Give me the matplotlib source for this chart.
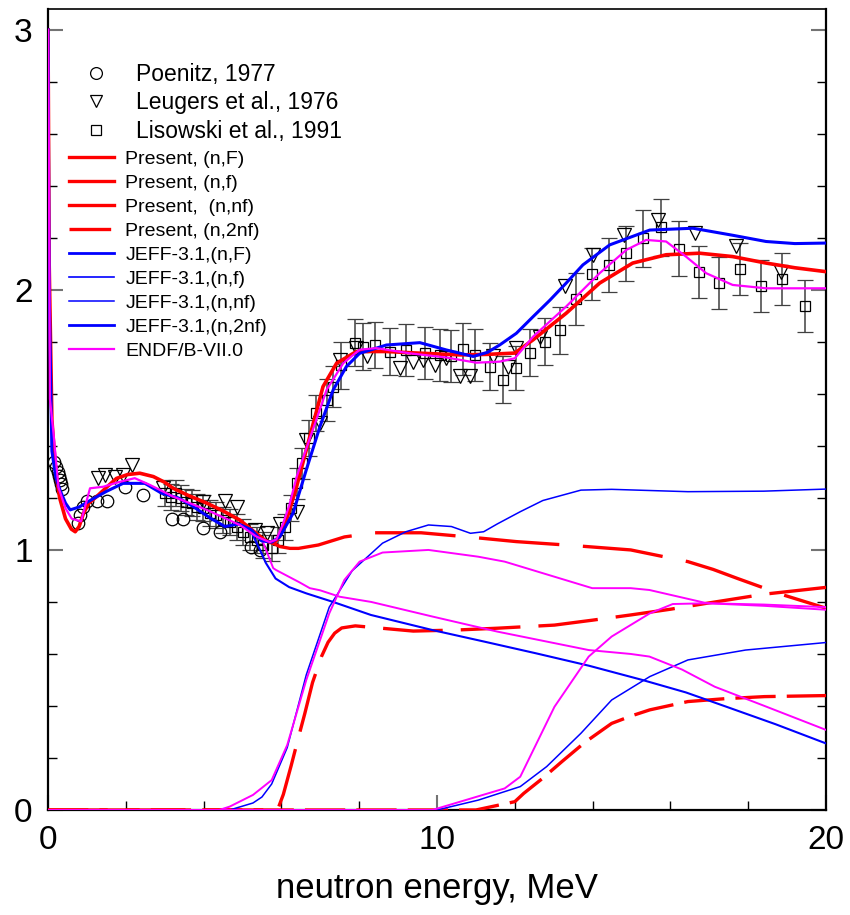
import matplotlib
matplotlib.use("Agg")
import matplotlib.pyplot as plt
from matplotlib.lines import Line2D
from matplotlib.ticker import MultipleLocator
import numpy as np

plt.rcParams['font.family'] = ['Liberation Sans', 'DejaVu Sans']
plt.rcParams['lines.scale_dashes'] = False

# --- Present (red) ---
e_pres_F = [0.0, 0.03, 0.1, 0.2, 0.3, 0.45, 0.6, 0.7, 0.8, 0.91, 1.05, 1.25, 1.5, 1.76, 2.05, 2.36,
            2.71, 3.0, 3.22, 3.6, 4.08, 4.5, 4.93, 5.3, 5.6, 5.8, 5.95, 6.13, 6.39, 6.73, 7.07, 7.42,
            7.93, 8.7, 9.5, 10.58, 11.3, 12.0, 12.47, 13.32, 14.18, 15.03, 15.89, 16.75, 17.6, 18.46,
            19.2, 20.0]
s_pres_F = [3.0, 2.1, 1.5, 1.3, 1.2, 1.12, 1.08, 1.07, 1.09, 1.14, 1.18, 1.205, 1.24, 1.275, 1.29, 1.295,
            1.282, 1.26, 1.237, 1.21, 1.18, 1.15, 1.115, 1.07, 1.035, 1.025, 1.05, 1.115, 1.243, 1.436,
            1.628, 1.718, 1.763, 1.763, 1.757, 1.75, 1.752, 1.757, 1.808, 1.91, 2.026, 2.103, 2.135,
            2.141, 2.128, 2.103, 2.085, 2.07]
e_pres_f = [5.8, 5.96, 6.22, 6.44, 6.95, 7.62, 8.4, 9.59, 10.8, 12.04, 13.5, 14.98, 16.45, 17.1,
            17.73, 18.9, 20.0]
s_pres_f = [1.025, 1.013, 1.006, 1.006, 1.019, 1.05, 1.066, 1.066, 1.05, 1.032, 1.017, 1.0,
            0.955, 0.925, 0.89, 0.827, 0.776]
e_pres_nf = [0.0, 5.9, 6.05, 6.25, 6.44, 6.6, 6.8, 7.03, 7.2, 7.37, 7.55, 7.9, 8.5, 9.39, 10.5, 11.55,
             13.02, 14.0, 14.98, 16.0, 16.94, 18.42, 20.0]
s_pres_nf = [0.0, 0.0, 0.06, 0.17, 0.28, 0.37, 0.49, 0.59, 0.645, 0.68, 0.70, 0.708, 0.70, 0.688, 0.692,
             0.699, 0.711, 0.73, 0.75, 0.772, 0.795, 0.83, 0.856]
e_pres_2nf = [0.0, 11.0, 12.0, 12.23, 12.7, 13.21, 13.8, 14.49, 15.0, 15.47, 16.45, 17.4, 18.42, 20.0]
s_pres_2nf = [0.0, 0.0, 0.032, 0.064, 0.12, 0.186, 0.26, 0.333, 0.362, 0.385, 0.417, 0.428, 0.436, 0.44]

# --- JEFF-3.1 (blue) ---
e_jeff_F = [0.0, 0.03, 0.1, 0.2, 0.31, 0.45, 0.57, 0.8, 1.08, 1.5, 1.93, 2.49, 2.92, 3.35, 3.7, 4.2,
            4.55, 4.9, 5.23, 5.49, 5.75, 5.96, 6.3, 6.64, 6.99, 7.33, 7.67, 8.01, 8.7, 9.56, 10.24,
            10.93, 11.3, 11.61, 12.04, 12.47, 12.9, 13.32, 13.75, 14.44, 15.47, 16.58, 17.6, 18.46,
            19.2, 20.0]
s_jeff_F = [3.0, 2.0, 1.38, 1.28, 1.23, 1.18, 1.154, 1.165, 1.19, 1.225, 1.256, 1.256, 1.218, 1.2, 1.17,
            1.12, 1.09, 1.1, 1.077, 1.035, 1.03, 1.051, 1.141, 1.308, 1.474, 1.615, 1.705, 1.756, 1.788,
            1.797, 1.769, 1.744, 1.76, 1.788, 1.833, 1.897, 1.96, 2.026, 2.096, 2.173, 2.23, 2.237,
            2.21, 2.186, 2.178, 2.18]
e_jeff_f = [5.2, 5.45, 5.6, 5.85, 6.2, 6.64, 7.33, 8.3, 9.88, 11.2, 12.53, 13.9, 15.28, 16.4, 17.44,
            18.7, 20.0]
s_jeff_f = [1.077, 1.0, 0.95, 0.89, 0.857, 0.833, 0.80, 0.75, 0.692, 0.648, 0.603, 0.555, 0.50, 0.452,
            0.397, 0.33, 0.256]
e_jeff_nf = [0.0, 4.67, 5.27, 5.5, 5.75, 6.15, 6.64, 7.23, 7.82, 8.6, 9.2, 9.78, 10.37, 10.86, 11.2,
             11.55, 12.14, 12.72, 13.7, 14.49, 16.45, 18.4, 20.0]
s_jeff_nf = [0.0, 0.0, 0.027, 0.05, 0.10, 0.24, 0.52, 0.78, 0.92, 1.026, 1.07, 1.096, 1.09, 1.064, 1.07,
             1.10, 1.147, 1.19, 1.23, 1.233, 1.224, 1.226, 1.234]
e_jeff_2nf = [0.0, 10.0, 11.06, 12.14, 12.82, 13.7, 14.49, 15.47, 16.45, 17.93, 20.0]
s_jeff_2nf = [0.0, 0.0, 0.038, 0.09, 0.167, 0.295, 0.423, 0.513, 0.577, 0.615, 0.644]

# --- ENDF/B-VII.0 (magenta) ---
e_endf_F = [0.0, 0.02, 0.05, 0.14, 0.27, 0.45, 0.61, 0.85, 1.08, 1.42, 1.8, 2.23, 2.62, 3.22, 4.08,
            4.93, 5.36, 5.7, 5.87, 6.04, 6.2, 6.39, 6.64, 6.99, 7.16, 7.59, 8.01, 8.44, 9.3, 10.24,
            11.01, 11.61, 12.0, 12.47, 13.32, 14.18, 14.87, 15.38, 15.89, 16.4, 16.92, 17.6, 18.46,
            20.0]
s_endf_F = [3.0, 2.6, 1.58, 1.45, 1.24, 1.16, 1.12, 1.11, 1.237, 1.243, 1.26, 1.276, 1.25, 1.205, 1.154,
            1.096, 1.051, 1.03, 1.04, 1.10, 1.17, 1.28, 1.39, 1.54, 1.615, 1.718, 1.77, 1.776, 1.756,
            1.74, 1.72, 1.724, 1.737, 1.82, 1.936, 2.064, 2.154, 2.192, 2.186, 2.128, 2.064, 2.019,
            2.006, 2.006]
e_endf_f = [5.5, 5.79, 5.86, 6.47, 6.73, 6.99, 7.5, 8.31, 9.88, 11.55, 13.9, 14.98, 15.46, 16.3, 17.14,
            18.42, 20.0]
s_endf_f = [1.04, 0.93, 0.923, 0.875, 0.853, 0.845, 0.82, 0.80, 0.744, 0.686, 0.615, 0.60, 0.59, 0.54,
            0.474, 0.40, 0.308]
e_endf_nf = [0.0, 4.4, 4.67, 5.27, 5.75, 6.15, 6.64, 7.23, 7.62, 8.01, 8.6, 9.78, 11.06, 11.74, 13.99,
             14.98, 15.46, 16.94, 18.42, 20.0]
s_endf_nf = [0.0, 0.0, 0.013, 0.058, 0.115, 0.25, 0.50, 0.756, 0.885, 0.955, 0.99, 1.0, 0.974, 0.955,
             0.853, 0.853, 0.846, 0.795, 0.785, 0.77]
e_endf_2nf = [0.0, 9.88, 11.74, 12.14, 13.02, 13.9, 14.49, 15.47, 16.06, 16.94, 18.4, 20.0]
s_endf_2nf = [0.0, 0.0, 0.083, 0.128, 0.397, 0.59, 0.667, 0.756, 0.792, 0.795, 0.79, 0.78]

# --- experimental data ---
e_poenitz = [0.15, 0.2, 0.25, 0.28, 0.3, 0.33, 0.35, 0.78, 0.82, 0.91, 0.99, 1.25, 1.51, 1.98, 2.45,
             3.18, 3.48, 3.99, 4.42, 5.23, 5.45]
s_poenitz = [1.34, 1.32, 1.30, 1.285, 1.27, 1.255, 1.235, 1.103, 1.135, 1.167, 1.19, 1.19, 1.19, 1.243,
             1.21, 1.12, 1.12, 1.083, 1.07, 1.013, 1.0]

e_leugers = [1.29, 1.46, 1.72, 1.93, 2.15, 2.96, 3.99, 4.55, 4.85, 5.32, 5.62, 5.96, 6.39, 6.64, 6.99,
             7.5, 7.93, 8.19, 9.04, 9.39, 9.64, 9.94, 10.24, 10.58, 10.84, 11.44, 11.82, 12.04, 12.64,
             13.28, 14.0, 14.82, 15.68, 16.62, 17.69, 18.85]
s_leugers = [1.276, 1.288, 1.282, 1.288, 1.327, 1.237, 1.186, 1.19, 1.167, 1.077, 1.064, 1.10, 1.147,
             1.423, 1.487, 1.73, 1.776, 1.744, 1.70, 1.724, 1.73, 1.711, 1.737, 1.668, 1.668, 1.744,
             1.705, 1.776, 1.82, 2.013, 2.135, 2.212, 2.27, 2.218, 2.167, 2.07]

e_lisowski = [3.0, 3.16, 3.3, 3.43, 3.56, 3.69, 3.82, 3.99, 4.16, 4.33, 4.5, 4.67, 4.85, 5.02, 5.19,
              5.36, 5.53, 5.75, 5.92, 6.1, 6.25, 6.39, 6.52, 6.7, 6.9, 7.16, 7.33, 7.54, 7.89, 8.1, 8.4,
              8.78, 9.21, 9.68, 10.07, 10.37, 10.67, 10.97, 11.35, 11.7, 12.04, 12.4, 12.78, 13.17,
              13.58, 13.98, 14.41, 14.85, 15.29, 15.76, 16.23, 16.73, 17.24, 17.78, 18.32, 18.86, 19.45]
s_lisowski = [1.218, 1.205, 1.218, 1.198, 1.186, 1.179, 1.167, 1.16, 1.141, 1.135, 1.115, 1.109, 1.09,
              1.07, 1.051, 1.038, 1.019, 1.006, 1.038, 1.09, 1.16, 1.256, 1.333, 1.43, 1.526, 1.577,
              1.628, 1.71, 1.797, 1.782, 1.788, 1.763, 1.77, 1.756, 1.75, 1.744, 1.772, 1.75, 1.705,
              1.654, 1.70, 1.759, 1.80, 1.845, 1.965, 2.06, 2.096, 2.14, 2.198, 2.24, 2.158, 2.067,
              2.028, 2.079, 2.013, 2.04, 1.938]
d_lisowski = [0.05, 0.05, 0.05, 0.05, 0.05, 0.05, 0.05, 0.05, 0.05, 0.05, 0.05, 0.05, 0.05, 0.05, 0.05,
              0.05, 0.05, 0.05, 0.05, 0.05, 0.05, 0.06, 0.06, 0.07, 0.07, 0.08, 0.08, 0.09, 0.09, 0.09,
              0.09, 0.09, 0.1, 0.1, 0.1, 0.1, 0.1, 0.1, 0.09, 0.09, 0.085, 0.09, 0.09, 0.09, 0.1, 0.1,
              0.105, 0.105, 0.11, 0.11, 0.105, 0.1, 0.1, 0.1, 0.1, 0.1, 0.1]

fig = plt.figure(figsize=(8.5, 9.15), dpi=100)
ax = fig.add_axes([48 / 850, 105 / 915, 778 / 850, 801 / 915])

red, blue, mag = '#ff0000', '#0000ff', '#ff00ff'

# experimental points
ax.errorbar(e_lisowski, s_lisowski, yerr=d_lisowski, fmt='s', ms=7.5, mfc='none', mec='k', mew=0.9,
            ecolor='0.25', elinewidth=1.1, capsize=5.5, capthick=1.1, zorder=2)
ax.plot(e_poenitz, s_poenitz, 'o', ms=9, mfc='none', mec='k', mew=0.9, zorder=2)
ax.plot(e_leugers, s_leugers, 'v', ms=9.5, mfc='none', mec='k', mew=0.9, zorder=2)

# evaluated curves
ax.plot(e_pres_F, s_pres_F, color=red, lw=2.6, zorder=4)
ax.plot(e_pres_f, s_pres_f, color=red, lw=2.4, dashes=(58, 17), zorder=3)
ax.plot(e_pres_nf, s_pres_nf, color=red, lw=2.4, dashes=(43, 13), zorder=3)
ax.plot(e_pres_2nf, s_pres_2nf, color=red, lw=2.4, dashes=(29, 8), zorder=3)

ax.plot(e_jeff_F, s_jeff_F, color=blue, lw=2.2, zorder=4)
ax.plot(e_jeff_f, s_jeff_f, color=blue, lw=1.5, zorder=3)
ax.plot(e_jeff_nf, s_jeff_nf, color=blue, lw=1.1, zorder=3)
ax.plot(e_jeff_2nf, s_jeff_2nf, color=blue, lw=1.1, zorder=3)

ax.plot(e_endf_F, s_endf_F, color=mag, lw=1.6, zorder=5)
ax.plot(e_endf_f, s_endf_f, color=mag, lw=1.4, zorder=3)
ax.plot(e_endf_nf, s_endf_nf, color=mag, lw=1.4, zorder=3)
ax.plot(e_endf_2nf, s_endf_2nf, color=mag, lw=1.4, zorder=3)

ax.set_xlim(0, 20)
ax.set_ylim(0, 3.08)
ax.xaxis.set_major_locator(MultipleLocator(10))
ax.xaxis.set_minor_locator(MultipleLocator(2))
ax.yaxis.set_major_locator(MultipleLocator(1))
ax.yaxis.set_minor_locator(MultipleLocator(0.2))
ax.tick_params(which='both', direction='in', top=False, right=True, labelsize=24)
ax.tick_params(which='major', length=11, width=1.5, color='0.45', pad=11)
ax.tick_params(which='minor', length=6.5, width=1.0, color='k')
for sp in ax.spines.values():
    sp.set_linewidth(1.6)
ax.spines['top'].set_linewidth(1.2)
ax.set_xlabel('neutron energy, MeV', fontsize=25, labelpad=11)

# legends
exp_handles = [
    Line2D([], [], ls='none', marker='o', ms=8.5, mfc='none', mec='k', mew=0.9),
    Line2D([], [], ls='none', marker='v', ms=9, mfc='none', mec='k', mew=0.9),
    Line2D([], [], ls='none', marker='s', ms=7.5, mfc='none', mec='k', mew=0.9),
]
exp_labels = ['Poenitz, 1977', 'Leugers et al., 1976', 'Lisowski et al., 1991']
leg1 = ax.legend(exp_handles, exp_labels, loc='upper left', frameon=False, fontsize=16.5,
                 bbox_to_anchor=(78 / 850, 1 - 63 / 915), bbox_transform=fig.transFigure,
                 borderpad=0, borderaxespad=0, handlelength=1.6, handletextpad=0.95,
                 labelspacing=0.24)
ax.add_artist(leg1)

line_handles = [
    Line2D([], [], color=red, lw=2.4),
    Line2D([], [], color=red, lw=2.4),
    Line2D([], [], color=red, lw=2.4),
    Line2D([], [], color=red, lw=2.4, dashes=(30, 10)),
    Line2D([], [], color=blue, lw=2.0),
    Line2D([], [], color=blue, lw=1.2),
    Line2D([], [], color=blue, lw=1.1),
    Line2D([], [], color=blue, lw=2.0),
    Line2D([], [], color=mag, lw=1.6),
]
line_labels = ['Present, (n,F)', 'Present, (n,f)', 'Present,  (n,nf)', 'Present, (n,2nf)',
               'JEFF-3.1,(n,F)', 'JEFF-3.1,(n,f)', 'JEFF-3.1,(n,nf)', 'JEFF-3.1,(n,2nf)',
               'ENDF/B-VII.0']
ax.legend(line_handles, line_labels, loc='upper left', frameon=False, fontsize=14,
          bbox_to_anchor=(69 / 850, 1 - 150 / 915), bbox_transform=fig.transFigure,
          borderpad=0, borderaxespad=0, handlelength=2.32, handletextpad=0.57,
          labelspacing=0.33)

fig.savefig('out.png', dpi=100)
